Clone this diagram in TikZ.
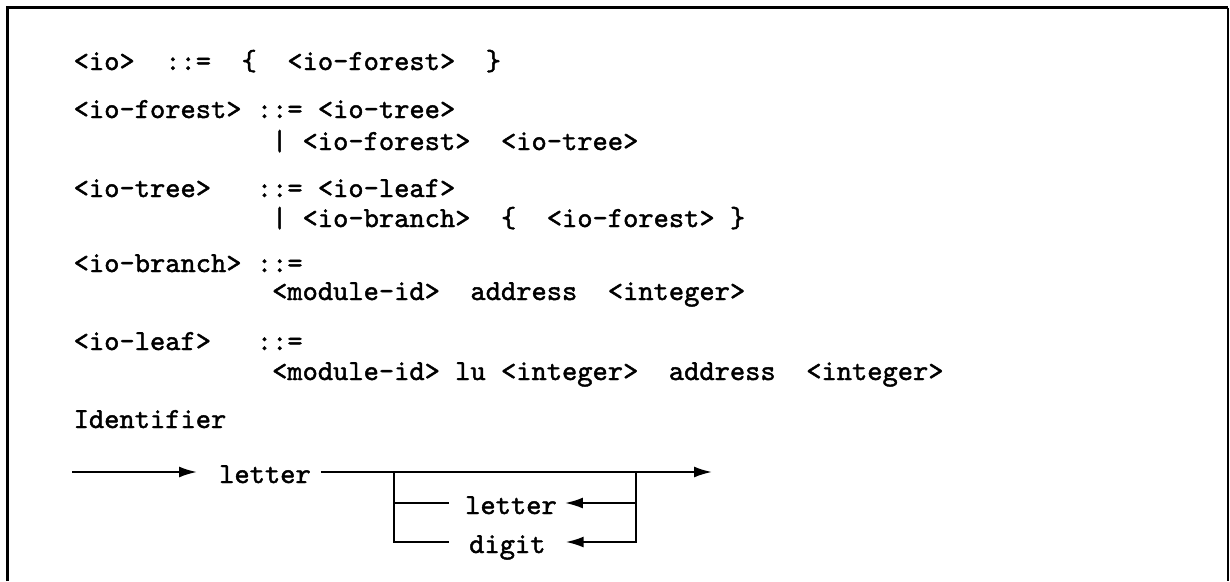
\documentclass[tikz,border=0pt]{standalone}
\usepackage{fontspec}
\newfontfamily\codefont{lmmono10-regular.otf}[FakeBold=1.5]
\usetikzlibrary{arrows.meta}
% x position of a character cell in the monospaced grammar listing
\newcommand{\cellx}[1]{73.5+#1*15.26}
\tikzset{
  code/.style={anchor=base west, inner sep=0pt,
    font=\codefont\fontsize{29.07}{34}\selectfont},
  lab/.style={anchor=west, inner sep=0pt, text height=22pt, text depth=0pt,
    font=\codefont\fontsize{29.07}{34}\selectfont},
  rail/.style={line width=2pt},
  arr/.style={rail, -{Latex[length=18pt,width=11pt]}},
  frame/.style={line width=2.4pt}
}
\begin{document}
\begin{tikzpicture}[x=1pt,y=-1pt]
\useasboundingbox (0,0) rectangle (1230,581);
% frame
\draw[frame] (7.5,581) -- (7.5,7.5) -- (1228,7.5);
\draw[line width=1.5pt] (1228,7.5) -- (1228,581);

% grammar rules
\node[code] (r1a) at ({\cellx{0}},70) {<io>~~::=~~\{~~<io-forest>~~\}};
\node[code] (r2a) at ({\cellx{0}},118) {<io-forest>~::=~<io-tree>};
\node[code] (r3a) at ({\cellx{13}},150) {|~<io-forest>~~<io-tree>};
\node[code] (r4a) at ({\cellx{0}},197) {<io-tree>~~~::=~<io-leaf>};
\node[code] (r5a) at ({\cellx{13}},227) {|~<io-branch>~~\{~~<io-forest>~\}};
\node[code] (r6a) at ({\cellx{0}},272) {<io-branch>~::=};
\node[code] (r7a) at ({\cellx{13}},300) {<module-id>~~address~~<integer>};
\node[code] (r8a) at ({\cellx{0}},350) {<io-leaf>~~~::=};
\node[code] (r9a) at ({\cellx{13}},380) {<module-id>~lu~<integer>~~address~~<integer>};
\node[code] (idt) at ({\cellx{0}},428) {Identifier};

% syntax diagram for an identifier
\coordinate (in) at (72,472);
\node[lab] (l1) at (219,472) {letter};
\coordinate (jl) at (394,472);
\coordinate (jr) at (636,472);
\coordinate (out) at (712,472);
\node[lab] (l2) at (465,503) {letter};
\node[lab] (dg) at (469,542) {digit};

\draw[arr, shorten >=22pt] (in) -- (l1.west);
\draw[arr, shorten <=10pt] (l1.east) -- (out);
\draw[rail, shorten >=20pt] (jl) |- (dg.west);
\draw[rail, shorten >=16pt] (jl |- l2.west) -- (l2.west);
\draw[arr, shorten >=20pt] (jr) |- (dg.east);
\draw[arr, shorten >=8pt] (jr |- l2.east) -- (l2.east);
\end{tikzpicture}
\end{document}
